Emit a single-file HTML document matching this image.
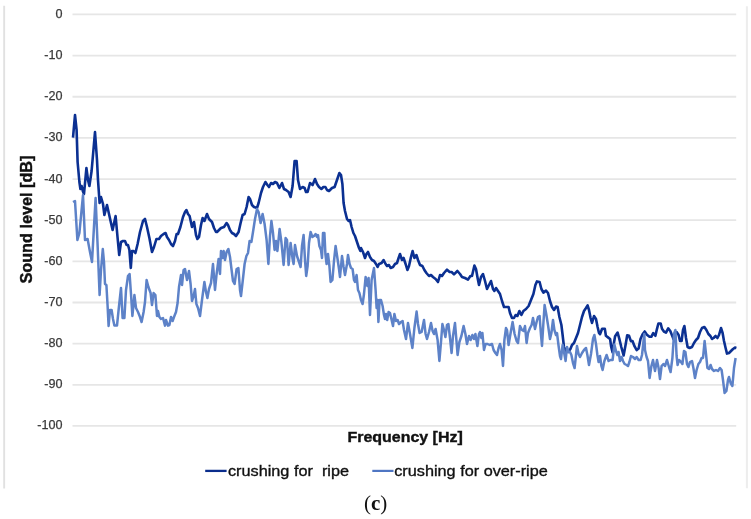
<!DOCTYPE html>
<html><head><meta charset="utf-8"><title>chart</title>
<style>
html,body{margin:0;padding:0;background:#fff;}
body{width:751px;height:519px;overflow:hidden;font-family:"Liberation Sans",sans-serif;}
svg{display:block;}
.grid line{stroke:#e6e6e6;stroke-width:1.8;}
.ylab text{font-family:"Liberation Sans",sans-serif;font-size:12.6px;fill:#3a3a3a;stroke:#3a3a3a;stroke-width:0.25px;text-anchor:end;}
.ttl{font-family:"Liberation Sans",sans-serif;font-weight:bold;font-size:16px;fill:#111;stroke:#111;stroke-width:0.4px;text-anchor:middle;}
.leg{font-family:"Liberation Sans",sans-serif;font-size:15.3px;fill:#111;stroke:#111;stroke-width:0.35px;}
.cap{font-family:"Liberation Serif",serif;font-size:21px;fill:#111;text-anchor:middle;}
</style></head>
<body>
<svg width="751" height="519" viewBox="0 0 751 519">
<rect width="751" height="519" fill="#ffffff"/>
<line x1="4.15" x2="4.15" y1="5.8" y2="488.4" stroke="#e1e1e1" stroke-width="1.9"/>
<line x1="746.9" x2="746.9" y1="6.3" y2="488.3" stroke="#ededed" stroke-width="2"/>
<g class="grid"><line x1="72.5" x2="736.2" y1="14.47" y2="14.47"/><line x1="72.5" x2="736.2" y1="55.62" y2="55.62"/><line x1="72.5" x2="736.2" y1="96.77" y2="96.77"/><line x1="72.5" x2="736.2" y1="137.92" y2="137.92"/><line x1="72.5" x2="736.2" y1="179.07" y2="179.07"/><line x1="72.5" x2="736.2" y1="220.22" y2="220.22"/><line x1="72.5" x2="736.2" y1="261.37" y2="261.37"/><line x1="72.5" x2="736.2" y1="302.52" y2="302.52"/><line x1="72.5" x2="736.2" y1="343.67" y2="343.67"/><line x1="72.5" x2="736.2" y1="384.82" y2="384.82"/><line x1="72.5" x2="736.2" y1="425.97" y2="425.97"/></g>
<g class="ylab"><text x="62.5" y="17.97">0</text><text x="62.5" y="59.12">-10</text><text x="62.5" y="100.27">-20</text><text x="62.5" y="141.42">-30</text><text x="62.5" y="182.57">-40</text><text x="62.5" y="223.72">-50</text><text x="62.5" y="264.87">-60</text><text x="62.5" y="306.02">-70</text><text x="62.5" y="347.17">-80</text><text x="62.5" y="388.32">-90</text><text x="62.5" y="429.47">-100</text></g>
<path d="M73.0,137.6 L75.0,115.0 L76.6,130.0 L77.6,162.0 L79.4,182.0 L80.4,189.0 L81.6,186.0 L82.8,191.0 L84.0,194.0 L86.4,168.0 L88.0,180.0 L89.4,186.0 L91.6,171.0 L95.0,132.0 L97.0,160.0 L98.0,180.0 L99.6,203.0 L101.0,197.0 L103.0,204.0 L104.4,215.0 L107.0,205.0 L109.0,214.0 L111.0,223.0 L112.6,230.0 L115.6,216.0 L117.6,238.0 L119.2,255.0 L121.0,242.0 L123.0,241.0 L125.0,241.0 L126.6,245.0 L128.0,245.0 L129.4,250.0 L130.8,268.0 L132.0,251.0 L133.6,251.0 L135.4,253.0 L137.6,244.0 L140.0,232.0 L143.0,221.0 L145.0,219.0 L147.0,227.0 L149.4,238.0 L152.0,252.0 L154.0,247.0 L156.4,239.0 L159.0,239.0 L161.0,236.0 L163.6,234.0 L165.6,233.0 L167.0,237.0 L169.0,240.0 L171.0,244.0 L173.0,246.0 L175.0,241.0 L176.6,234.0 L178.0,234.0 L180.4,227.0 L183.0,217.0 L185.0,212.0 L186.4,210.0 L188.0,214.0 L189.6,216.0 L192.0,227.0 L194.0,222.0 L196.0,235.0 L197.4,239.0 L199.0,237.0 L201.0,225.0 L202.6,218.0 L204.4,221.0 L207.0,214.0 L209.0,219.0 L212.0,222.0 L214.0,228.0 L216.0,232.0 L217.0,232.0 L219.0,230.0 L221.0,228.0 L224.0,227.0 L226.6,223.0 L228.0,225.0 L230.0,230.0 L232.0,233.0 L234.0,234.0 L236.0,236.0 L238.6,232.0 L240.6,223.0 L242.6,215.0 L244.6,214.0 L246.6,207.0 L248.6,197.0 L250.0,199.0 L252.0,205.0 L254.0,207.0 L257.0,208.0 L258.6,203.0 L261.0,193.0 L263.0,187.0 L265.4,182.0 L267.4,185.0 L269.0,187.0 L271.0,183.0 L273.0,184.0 L275.0,182.0 L277.0,183.0 L279.4,188.0 L282.0,183.0 L284.0,189.0 L286.0,190.0 L288.6,192.0 L290.6,197.0 L292.6,186.0 L294.6,161.0 L296.6,161.0 L298.0,180.0 L300.0,189.0 L302.6,187.0 L304.6,188.0 L306.0,192.0 L307.6,192.0 L310.0,183.0 L312.6,185.0 L315.0,179.0 L317.0,184.0 L319.0,187.0 L321.4,189.0 L323.4,187.0 L325.4,187.0 L327.0,190.0 L329.0,191.0 L332.0,188.0 L334.6,187.0 L337.0,180.0 L339.4,173.0 L341.0,175.0 L342.4,184.0 L343.6,203.0 L345.0,211.0 L347.0,219.0 L348.6,221.0 L350.0,220.0 L351.6,227.0 L353.4,233.0 L355.0,236.0 L357.0,242.0 L359.0,248.0 L360.4,251.0 L361.0,248.0 L363.0,252.0 L365.0,258.0 L366.4,254.0 L368.0,252.0 L370.0,257.0 L372.0,260.0 L374.0,261.0 L376.0,264.0 L377.6,267.0 L379.0,264.0 L381.6,263.0 L383.6,260.0 L385.6,264.0 L387.0,266.0 L389.0,265.0 L390.6,268.0 L393.0,267.0 L395.0,264.0 L397.0,263.0 L398.6,258.0 L400.0,254.0 L402.0,260.0 L403.6,258.0 L405.6,264.0 L407.4,270.0 L409.0,266.0 L411.0,257.0 L412.6,251.0 L414.4,258.0 L416.4,255.0 L418.0,260.0 L420.0,265.0 L422.4,266.0 L424.4,270.0 L426.4,273.0 L429.0,276.0 L431.0,275.0 L433.0,277.0 L435.6,279.0 L438.0,282.0 L440.0,275.0 L442.0,276.0 L444.0,273.0 L447.0,269.6 L449.6,272.0 L451.6,272.0 L454.0,274.4 L457.4,271.0 L460.0,274.0 L462.0,277.0 L465.0,278.0 L468.0,279.6 L470.4,276.0 L472.0,276.0 L474.4,265.6 L476.0,269.0 L477.6,278.0 L479.0,285.0 L481.0,277.0 L483.0,274.0 L485.0,281.0 L487.0,289.0 L489.0,285.0 L491.0,281.0 L493.0,289.0 L494.4,291.0 L496.0,288.0 L498.0,291.0 L500.0,294.0 L502.0,301.0 L504.0,307.0 L506.0,307.0 L507.0,307.0 L508.6,307.0 L510.0,313.0 L512.0,318.0 L514.0,318.0 L515.6,315.0 L517.4,316.0 L519.4,311.0 L521.4,315.0 L523.4,311.0 L526.0,309.0 L528.6,306.0 L531.0,300.0 L533.4,294.0 L535.4,285.0 L537.0,281.4 L539.6,282.0 L541.4,289.0 L543.4,292.6 L546.0,290.6 L548.0,293.0 L550.0,301.0 L552.0,307.0 L554.0,310.0 L556.0,306.6 L557.6,307.0 L559.4,317.0 L561.4,325.0 L562.6,335.0 L564.0,347.0 L566.0,351.0 L568.2,352.0 L570.4,349.0 L572.0,345.0 L574.0,343.0 L576.0,338.0 L578.0,333.0 L580.0,325.0 L582.0,317.0 L584.0,311.0 L586.0,308.0 L587.6,305.4 L589.0,310.0 L590.6,318.0 L592.0,323.0 L594.0,316.0 L596.0,319.0 L597.6,327.0 L599.0,333.0 L600.0,334.2 L602.1,328.8 L604.8,328.8 L605.9,335.8 L608.0,337.4 L610.1,339.0 L611.2,347.0 L612.6,352.3 L613.8,343.8 L615.1,336.3 L617.6,332.6 L619.2,338.4 L621.3,347.0 L623.6,355.5 L625.6,344.8 L627.2,335.2 L629.0,335.8 L630.9,341.1 L632.5,341.1 L634.6,346.4 L636.7,350.1 L638.6,348.5 L640.5,339.0 L642.6,334.2 L644.7,331.5 L646.9,334.7 L649.5,336.8 L651.3,336.8 L653.2,333.1 L655.4,335.8 L657.0,328.8 L658.4,323.5 L660.7,323.5 L662.0,328.8 L663.9,331.5 L666.0,332.6 L668.2,328.3 L670.3,331.0 L673.0,337.9 L673.4,339.0 L675.0,333.0 L676.6,332.0 L678.6,335.0 L680.0,341.0 L681.6,341.0 L683.0,330.0 L684.4,326.0 L686.0,338.0 L687.6,347.0 L689.6,348.0 L692.0,347.0 L694.0,343.0 L696.0,340.0 L698.0,338.0 L700.0,332.0 L702.0,328.0 L704.4,327.0 L706.4,330.0 L708.4,334.0 L710.4,336.0 L712.0,339.0 L713.6,338.0 L715.6,336.0 L717.4,338.0 L719.0,335.0 L721.0,328.0 L722.6,333.0 L724.0,341.0 L725.6,348.0 L727.0,353.6 L729.0,353.0 L731.0,351.0 L733.0,349.0 L735.0,347.6 L736.4,348.0" fill="none" stroke="#0b3092" stroke-width="2.6" stroke-linejoin="round" stroke-linecap="butt"/>
<path d="M73.0,202.0 L75.0,201.0 L77.4,240.0 L79.4,233.0 L83.0,195.0 L85.0,240.0 L87.6,239.0 L90.0,252.0 L92.0,262.0 L95.6,198.0 L97.6,245.0 L99.6,295.0 L101.0,270.0 L102.8,249.0 L104.0,262.0 L105.0,284.0 L106.4,285.0 L107.6,306.0 L108.6,326.0 L110.0,310.0 L111.6,310.0 L113.0,319.0 L114.4,325.6 L117.0,325.6 L118.6,310.0 L121.0,288.0 L122.6,318.0 L124.4,318.0 L126.0,290.0 L128.0,276.0 L129.6,274.0 L131.0,294.0 L132.4,316.0 L134.4,295.0 L136.0,308.0 L138.0,312.0 L140.0,317.0 L141.6,322.0 L143.6,312.0 L145.0,302.0 L146.6,280.0 L148.4,287.0 L150.6,293.0 L152.0,305.0 L153.6,293.0 L155.4,295.0 L157.0,316.0 L158.0,311.0 L159.4,317.0 L161.0,319.0 L163.0,318.0 L165.0,325.6 L166.0,320.0 L168.0,325.6 L169.4,325.0 L171.0,317.0 L172.6,321.0 L174.0,317.0 L176.0,312.0 L177.6,303.0 L179.0,287.0 L181.0,275.0 L182.0,285.0 L183.6,270.0 L185.0,269.0 L187.0,280.0 L189.0,271.0 L190.6,284.0 L192.0,301.0 L193.6,296.0 L195.0,289.0 L196.4,304.0 L198.0,308.0 L200.0,316.0 L202.0,300.0 L204.4,282.0 L206.0,292.0 L207.4,298.0 L209.0,289.0 L211.0,283.0 L213.0,264.0 L215.0,290.0 L216.6,274.0 L218.6,259.0 L220.0,274.0 L221.0,251.0 L222.6,258.0 L223.6,251.0 L225.0,260.0 L226.6,252.0 L228.4,249.0 L230.0,257.0 L231.6,270.0 L233.0,281.0 L234.6,284.0 L236.6,269.0 L238.4,268.0 L240.0,290.0 L241.0,296.0 L242.6,282.0 L244.6,264.0 L246.4,256.0 L248.0,253.0 L249.6,241.0 L251.4,242.0 L253.0,232.0 L255.0,219.0 L257.0,209.0 L258.6,212.0 L260.6,223.0 L262.6,214.0 L264.6,224.0 L266.6,240.0 L268.4,264.0 L270.0,236.0 L271.4,221.0 L273.0,233.0 L274.6,250.0 L276.0,241.0 L277.4,251.0 L279.6,229.0 L281.4,242.0 L283.6,265.0 L285.6,238.0 L287.0,240.0 L288.6,265.0 L290.6,243.0 L292.6,259.0 L293.6,264.0 L295.0,245.0 L297.0,256.0 L299.0,262.0 L300.6,267.0 L302.0,246.0 L303.6,235.0 L305.0,260.0 L306.2,276.0 L307.6,266.0 L309.0,243.0 L310.6,232.0 L312.4,237.0 L314.0,236.0 L315.6,234.0 L317.0,237.0 L318.0,235.0 L319.4,246.0 L321.0,250.0 L322.0,258.0 L323.0,233.0 L324.4,233.0 L325.4,254.0 L326.6,264.0 L328.0,254.0 L329.4,266.0 L330.6,282.0 L332.4,280.0 L334.0,261.0 L335.6,246.0 L337.4,258.0 L339.0,269.0 L340.0,277.0 L342.0,256.0 L343.6,267.0 L345.0,275.0 L347.0,264.0 L348.0,255.0 L349.6,264.0 L351.0,268.0 L352.6,269.0 L354.0,280.0 L355.0,282.0 L356.6,275.0 L358.0,290.0 L359.4,293.0 L361.0,300.0 L362.6,304.0 L364.0,294.0 L365.6,277.0 L367.4,286.0 L368.6,278.0 L370.0,315.0 L371.6,280.0 L374.0,268.0 L375.6,290.0 L376.6,308.0 L377.6,300.0 L378.4,322.0 L379.6,300.0 L381.0,300.0 L382.6,306.0 L384.0,315.0 L385.0,319.0 L386.0,314.0 L387.2,320.0 L388.6,312.0 L390.0,313.0 L391.4,319.0 L393.0,326.0 L394.4,314.0 L396.0,321.0 L397.6,320.0 L399.0,324.0 L401.0,322.0 L402.6,321.0 L404.0,330.0 L406.0,339.0 L408.0,323.0 L410.0,334.0 L412.4,348.0 L414.4,328.0 L416.6,311.6 L418.0,324.0 L419.6,333.0 L421.6,332.0 L424.0,320.0 L425.6,334.0 L427.0,339.0 L429.0,332.0 L431.0,323.0 L432.6,331.0 L434.0,334.0 L435.6,329.0 L437.6,340.0 L439.4,361.0 L441.0,342.0 L442.4,324.0 L444.0,330.0 L445.4,337.0 L447.0,325.0 L448.4,324.0 L450.0,338.0 L451.6,353.0 L453.0,336.0 L455.0,323.0 L456.4,340.0 L457.6,355.0 L459.4,342.0 L461.4,336.0 L463.6,326.0 L465.4,334.0 L467.0,344.0 L469.0,336.0 L470.6,340.0 L472.4,335.0 L474.0,339.0 L475.4,334.0 L477.4,346.0 L479.0,334.0 L480.0,332.0 L481.4,338.0 L482.4,333.0 L484.0,350.0 L485.6,344.0 L487.6,344.0 L489.6,345.0 L492.0,344.0 L493.6,350.0 L495.4,353.0 L497.0,355.0 L498.6,348.0 L500.0,344.0 L501.6,350.0 L503.0,366.0 L504.4,340.0 L506.0,328.0 L507.0,330.0 L508.6,345.0 L510.6,333.0 L512.6,322.0 L514.6,334.0 L516.6,341.0 L518.0,343.0 L520.0,326.0 L522.0,330.0 L523.6,331.0 L525.0,326.0 L526.6,343.0 L528.0,333.0 L530.0,328.0 L531.6,325.0 L533.0,318.0 L535.0,329.0 L536.6,322.0 L538.0,317.0 L539.6,316.0 L541.0,335.0 L542.0,346.0 L543.4,323.0 L544.6,305.0 L546.4,315.0 L548.0,325.0 L550.0,339.0 L551.4,333.0 L553.0,320.0 L554.4,330.0 L556.0,335.0 L557.0,333.0 L558.6,346.0 L560.0,356.0 L561.0,359.0 L562.6,345.0 L564.0,352.0 L565.6,361.0 L567.0,347.0 L568.6,352.0 L570.0,352.0 L571.4,355.0 L573.0,363.0 L574.6,368.0 L576.0,355.0 L577.0,346.0 L578.6,354.0 L580.0,357.0 L582.0,353.0 L584.0,350.0 L586.0,348.0 L587.4,355.0 L589.0,365.0 L591.0,354.0 L593.0,339.0 L594.4,335.0 L596.0,344.0 L597.4,355.0 L598.6,362.0 L600.0,356.0 L601.4,366.0 L602.6,370.0 L604.4,361.0 L606.6,355.0 L608.6,361.0 L610.6,360.0 L612.6,360.0 L614.4,344.5 L616.0,351.0 L617.4,355.0 L618.6,352.0 L620.0,361.0 L621.6,357.0 L623.0,361.0 L624.6,364.0 L626.6,365.0 L628.0,366.0 L629.4,362.0 L631.0,356.0 L633.0,357.0 L635.0,359.0 L636.6,357.0 L638.6,360.0 L640.6,360.0 L642.0,355.0 L644.3,334.0 L645.0,350.0 L646.6,357.0 L648.0,361.0 L649.6,378.0 L651.4,366.0 L653.0,360.0 L655.0,371.0 L657.0,360.0 L658.6,368.0 L660.0,379.0 L661.6,366.0 L663.4,364.0 L665.0,366.0 L667.0,360.0 L669.0,367.0 L670.6,372.0 L672.4,358.0 L674.0,334.0 L675.4,330.0 L676.6,356.0 L677.6,365.0 L679.0,360.0 L681.0,362.0 L682.4,364.0 L684.0,351.0 L685.4,352.0 L687.0,364.0 L688.4,367.0 L690.0,362.0 L692.0,361.0 L693.4,368.0 L695.0,378.0 L696.6,370.0 L698.4,364.0 L700.0,362.0 L701.6,358.0 L703.0,358.0 L704.6,341.0 L706.0,354.0 L707.4,368.0 L709.0,369.0 L710.6,365.0 L712.0,369.0 L714.0,371.0 L716.0,370.0 L718.0,371.0 L720.0,368.0 L721.6,370.0 L723.0,380.0 L724.6,393.0 L726.4,391.0 L728.0,380.0 L729.0,377.0 L730.6,383.0 L732.4,386.0 L734.0,368.0 L735.6,358.0" fill="none" stroke="#5d82c8" stroke-width="2.5" stroke-linejoin="round" stroke-linecap="butt"/>
<text class="ttl" transform="translate(32.0,219.6) rotate(-90)" textLength="128" lengthAdjust="spacingAndGlyphs">Sound level [dB]</text>
<text class="ttl" x="405.1" y="442" style="font-size:15.5px" textLength="115.2" lengthAdjust="spacingAndGlyphs">Frequency [Hz]</text>
<line x1="205.2" x2="226.6" y1="470.9" y2="470.9" stroke="#0a2d8c" stroke-width="2.3"/>
<text class="leg" x="228" y="475.8" xml:space="preserve" textLength="121" lengthAdjust="spacingAndGlyphs">crushing for  ripe</text>
<line x1="372.3" x2="393.5" y1="470.9" y2="470.9" stroke="#4f76c3" stroke-width="2.2"/>
<text class="leg" x="394.2" y="475.8" textLength="153.6" lengthAdjust="spacingAndGlyphs">crushing for over-ripe</text>
<text class="cap" x="375.7" y="510.4">(<tspan font-weight="bold">c</tspan>)</text>
</svg>
</body></html>
